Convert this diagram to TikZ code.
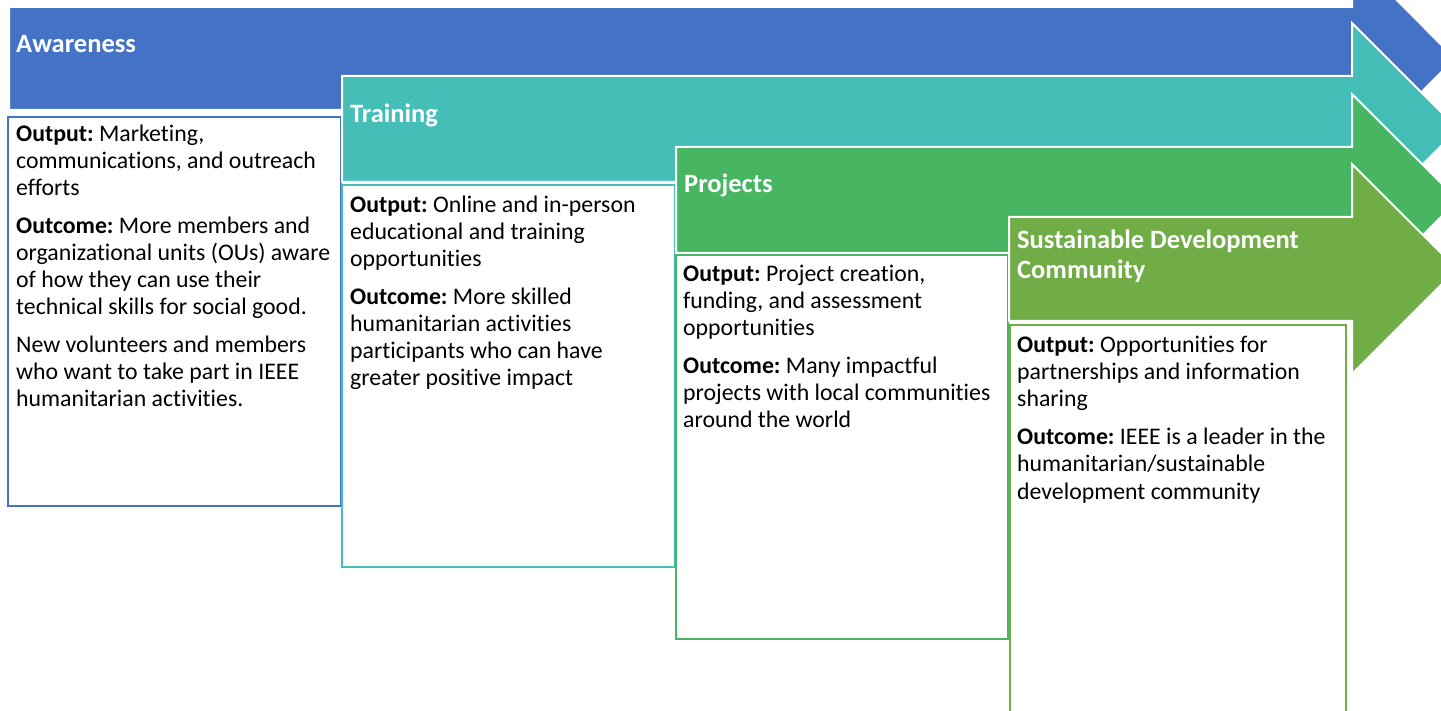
\documentclass[tikz,border=0pt]{standalone}
\usepackage{fontspec}
\setmainfont[RawFeature={-liga;-clig;-calt;-rlig;-dlig}]{Carlito}
\definecolor{cblue}{HTML}{4472C4}
\definecolor{cteal}{HTML}{45BEB8}
\definecolor{cgreen}{HTML}{48B563}
\definecolor{colive}{HTML}{70AD47}
\frenchspacing
\newcommand{\bodytext}[1]{\parbox[t]{420pt}{\fontsize{23.8}{27}\selectfont\setlength{\parskip}{11pt}\raggedright #1}}
\newcommand{\headtext}[1]{\parbox[t]{420pt}{\fontsize{26.5}{30}\selectfont\bfseries\raggedright #1}}
\begin{document}
\begin{tikzpicture}[x=1pt,y=-1pt,
  arrowshape/.style={draw=white, line width=2pt, line join=miter, fill=#1},
  boxshape/.style={draw=#1, fill=white, line width=2.3pt},
  heading/.style={anchor=base west, inner sep=0pt, text=white},
  body/.style={anchor=base west, inner sep=0pt, text=black}
]
\useasboundingbox (0,0) rectangle (1441,711);

% Awareness
\path[arrowshape=cblue] (9,7) -- (1352,7) -- (1352,-45) -- (1455,58.5) -- (1352,162) -- (1352,110) -- (9,110) -- cycle;
\node[heading] (h1) at (16,52.5) {\headtext{Awareness}};
\path[boxshape=cblue] (8,117) rectangle (341,506);
\node[body] (t1) at (16,141.5) {\bodytext{%
\textbf{Output:} Marketing,\\ communications, and outreach\\ efforts\par
\textbf{Outcome:} More members and\\ organizational units (OUs) aware\\ of how they can use their\\ technical skills for social good.\par
New volunteers and members\\ who want to take part in IEEE\\ humanitarian activities.}};

% Training
\path[arrowshape=cteal] (342,76) -- (1352,76) -- (1352,23) -- (1458,129) -- (1352,235) -- (1352,182) -- (342,182) -- cycle;
\node[heading] (h2) at (350,122.5) {\headtext{Training}};
\path[boxshape=cteal] (342,185) rectangle (675,567);
\node[body] (t2) at (350,213) {\bodytext{%
\textbf{Output:} Online and in-person\\ educational and training\\ opportunities\par
\textbf{Outcome:} More skilled\\ humanitarian activities\\ participants who can have\\ greater positive impact}};

% Projects
\path[arrowshape=cgreen] (676,147) -- (1352,147) -- (1352,94) -- (1458,200) -- (1352,306) -- (1352,253) -- (676,253) -- cycle;
\node[heading] (h3) at (684,193) {\headtext{Projects}};
\path[boxshape=cgreen] (676,255) rectangle (1008,639);
\node[body] (t3) at (683,282) {\bodytext{%
\textbf{Output:} Project creation,\\ funding, and assessment\\ opportunities\par
\textbf{Outcome:} Many impactful\\ projects with local communities\\ around the world}};

% Sustainable Development Community
\path[arrowshape=colive] (1009,217) -- (1352,217) -- (1352,164) -- (1457,269) -- (1352,374) -- (1352,321) -- (1009,321) -- cycle;
\node[heading] (h4) at (1017,249) {\headtext{Sustainable Development\\ Community}};
\path[boxshape=colive] (1010,325) rectangle (1346,730);
\node[body] (t4) at (1017,353) {\bodytext{%
\textbf{Output:} Opportunities for\\ partnerships and information\\ sharing\par
\textbf{Outcome:} IEEE is a leader in the\\ humanitarian/sustainable\\ development community}};
\end{tikzpicture}
\end{document}
